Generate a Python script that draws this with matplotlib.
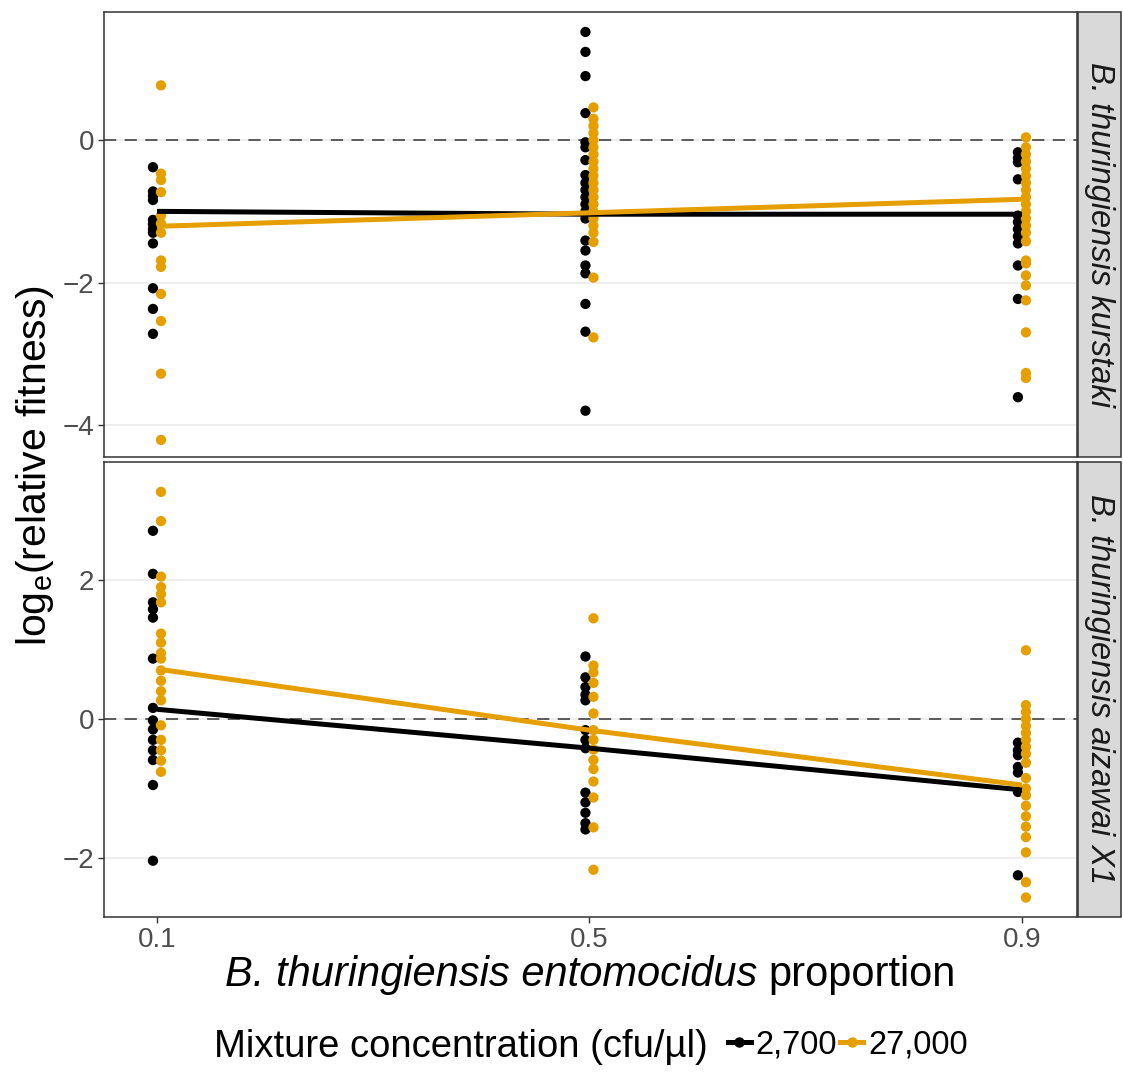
import numpy as np
import matplotlib
matplotlib.use("Agg")
import matplotlib.pyplot as plt
from matplotlib.lines import Line2D
from matplotlib.patches import Rectangle
from matplotlib.offsetbox import TextArea, HPacker, AnchoredOffsetbox

plt.rcParams['font.family'] = ['Liberation Sans', 'DejaVu Sans']
plt.rcParams['mathtext.fontset'] = 'custom'
plt.rcParams['mathtext.rm'] = 'Liberation Sans'
plt.rcParams['mathtext.it'] = 'Liberation Sans:italic'

# --- data ---
proportions = [0.1, 0.5, 0.9]
strains = ['B. thuringiensis kurstaki', 'B. thuringiensis aizawai X1']
conc_labels = ['2,700', '27,000']
colors = ['#000000', '#E69F00']

# kurstaki panel, points per proportion
kur_low = {
    0.1: [-0.38, -0.72, -0.78, -0.84, -1.12, -1.18, -1.25, -1.30, -1.45, -2.08, -2.37, -2.72],
    0.5: [1.52, 1.24, 0.90, 0.38, -0.03, -0.10, -0.28, -0.49, -0.60, -0.70, -0.80, -0.90,
          -1.00, -1.10, -1.41, -1.55, -1.76, -1.87, -2.30, -2.69, -3.80],
    0.9: [-0.17, -0.25, -0.31, -0.55, -1.06, -1.15, -1.25, -1.35, -1.45, -1.76, -2.23, -3.61],
}
kur_high = {
    0.1: [0.77, -0.47, -0.56, -0.73, -1.06, -1.17, -1.30, -1.69, -1.78, -2.16, -2.54, -3.28, -4.21],
    0.5: [0.46, 0.30, 0.20, 0.10, 0.00, -0.10, -0.20, -0.30, -0.40, -0.50, -0.60, -0.70,
          -0.80, -0.90, -1.00, -1.10, -1.20, -1.30, -1.43, -1.93, -2.77],
    0.9: [0.04, -0.10, -0.20, -0.30, -0.40, -0.50, -0.60, -0.70, -0.80, -0.90, -1.00, -1.10,
          -1.20, -1.30, -1.42, -1.69, -1.73, -1.90, -2.04, -2.25, -2.70, -3.27, -3.34],
}
kur_fit_low = [-1.00, -1.04, -1.04]
kur_fit_high = [-1.21, -1.02, -0.83]

# aizawai X1 panel
aiz_low = {
    0.1: [2.71, 2.09, 1.68, 1.58, 1.46, 0.87, 0.16, -0.02, -0.15, -0.30, -0.45, -0.59, -0.95, -2.04],
    0.5: [0.90, 0.60, 0.46, 0.35, 0.27, -0.16, -0.30, -0.42, -1.06, -1.20, -1.35, -1.50, -1.59],
    0.9: [-0.34, -0.45, -0.52, -0.69, -0.77, -1.05, -2.25],
}
aiz_high = {
    0.1: [3.27, 2.85, 2.05, 1.90, 1.80, 1.68, 1.23, 1.10, 0.95, 0.87, 0.70, 0.55, 0.40, 0.27,
          -0.09, -0.30, -0.45, -0.60, -0.76],
    0.5: [1.45, 0.77, 0.67, 0.52, 0.32, 0.08, -0.16, -0.30, -0.44, -0.59, -0.72, -0.90,
          -1.13, -1.56, -2.17],
    0.9: [0.99, 0.20, 0.10, 0.00, -0.10, -0.20, -0.30, -0.40, -0.50, -0.63, -0.85, -1.00,
          -1.10, -1.25, -1.40, -1.55, -1.70, -1.92, -2.35, -2.57],
}
aiz_fit_low = [0.14, -0.42, -1.02]
aiz_fit_high = [0.72, -0.16, -0.95]

panels = [
    (kur_low, kur_high, kur_fit_low, kur_fit_high, (-4.45, 1.80), [-4, -2, 0]),
    (aiz_low, aiz_high, aiz_fit_low, aiz_fit_high, (-2.85, 3.70), [-2, 0, 2]),
]

DODGE = 0.0037
fig = plt.figure(figsize=(11.23, 10.74), dpi=100)
ax_boxes = [[0.0926, 0.5745, 0.8665, 0.4143], [0.0926, 0.1462, 0.8665, 0.4236]]

axes = []
for i, (low, high, fit_low, fit_high, ylim, yticks) in enumerate(panels):
    ax = fig.add_axes(ax_boxes[i])
    axes.append(ax)
    for j, series in enumerate([low, high]):
        off = -DODGE if j == 0 else DODGE
        for p in proportions:
            ys = series[p]
            ax.scatter(np.full(len(ys), p + off), ys, s=55, color=colors[j],
                       edgecolors='none', zorder=3)
    ax.plot(proportions, fit_low, color=colors[0], lw=3.6, zorder=4, solid_capstyle='butt')
    ax.plot(proportions, fit_high, color=colors[1], lw=3.6, zorder=5, solid_capstyle='butt')
    ax.axhline(0, color='#333333', lw=1.1, ls=(0, (8, 5.5)), zorder=2)

    ax.set_xlim(0.051, 0.951)
    ax.set_ylim(*ylim)
    ax.set_yticks(yticks)
    ax.set_xticks(proportions)
    ax.yaxis.grid(True, color='#EBEBEB', lw=1.2)
    ax.set_axisbelow(True)
    ax.tick_params(axis='both', labelsize=20, labelcolor='#4D4D4D', color='#333333',
                   length=4, width=1.0, pad=3)
    for sp in ax.spines.values():
        sp.set_color('#333333')
        sp.set_linewidth(1.1)
    if i == 0:
        ax.tick_params(axis='x', labelbottom=False, length=0)

    # facet strip on the right
    b = ax_boxes[i]
    sx = b[0] + b[2] + 0.0009
    strip = Rectangle((sx, b[1]), 0.0383, b[3], transform=fig.transFigure,
                      facecolor='#D9D9D9', edgecolor='#333333', lw=1.1)
    fig.add_artist(strip)
    fig.text(sx + 0.0383 / 2, b[1] + b[3] / 2, strains[i], rotation=-90,
             ha='center', va='center', fontsize=23.5, style='italic', color='#1A1A1A')

fig.text(0.031, 0.567, r'log$_\mathrm{e}$(relative fitness)', rotation=90,
         ha='center', va='center', fontsize=29.5)

# x title: italic species name + plain word
xlab = HPacker(children=[
    TextArea('B. thuringiensis entomocidus', textprops=dict(fontsize=30, style='italic')),
    TextArea('proportion', textprops=dict(fontsize=30)),
], align='baseline', pad=0, sep=8)
fig.add_artist(AnchoredOffsetbox(loc='center', child=xlab, pad=0, frameon=False,
                                 bbox_to_anchor=(0.526, 0.092),
                                 bbox_transform=fig.transFigure, borderpad=0))

fig.text(0.191, 0.025, 'Mixture concentration (cfu/\u00b5l)', ha='left', va='center',
         fontsize=27.5)
handles = [Line2D([], [], color=c, lw=3.6, marker='o', markersize=6.5) for c in colors]
fig.legend(handles, conc_labels, loc='center left', bbox_to_anchor=(0.648, 0.027),
           ncol=2, frameon=False, fontsize=23.5, handlelength=0.7, handletextpad=0.15,
           columnspacing=0.1, borderaxespad=0, borderpad=0)

fig.savefig('out.png', dpi=100)
